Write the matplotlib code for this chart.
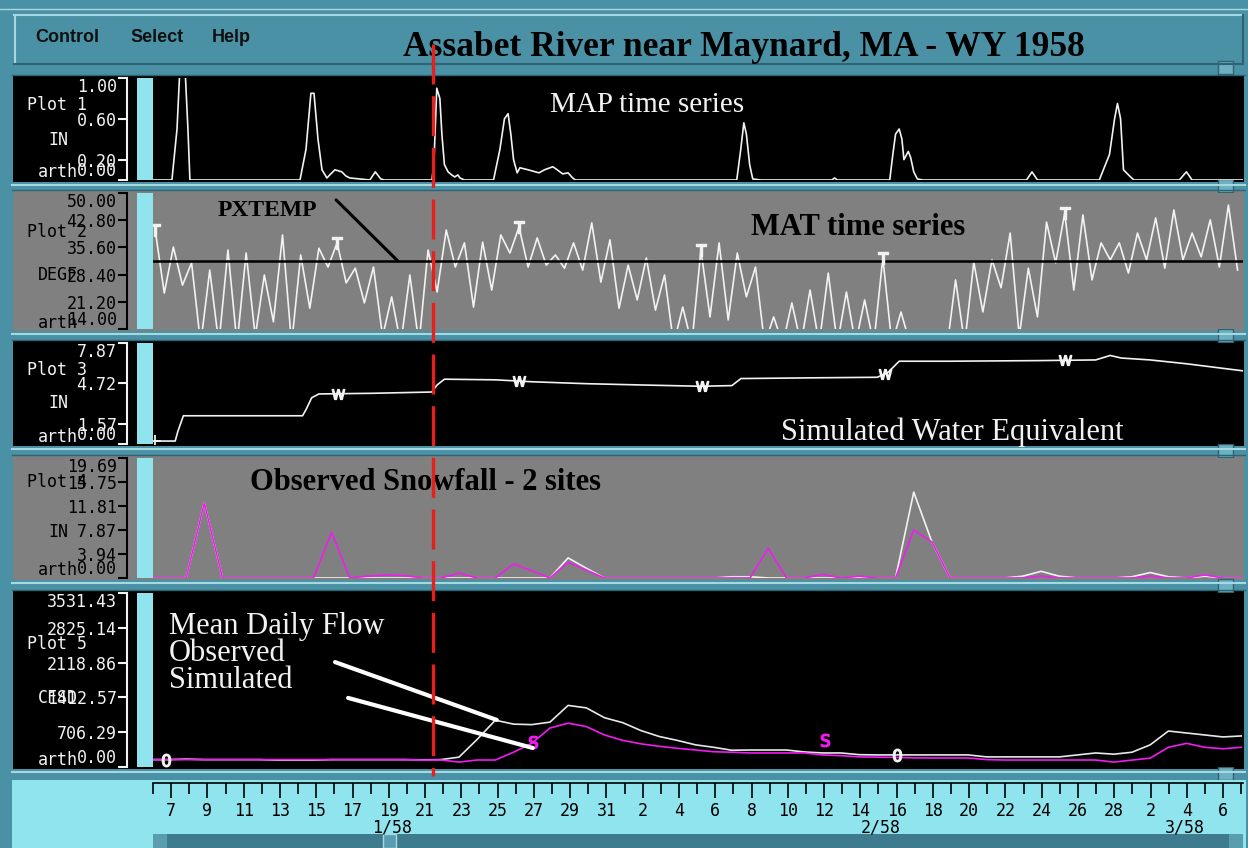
import numpy as np
import matplotlib
matplotlib.use("Agg")
import matplotlib.pyplot as plt
from matplotlib.patches import Rectangle
from matplotlib.transforms import blended_transform_factory

W, H = 1248, 848

# ---------------- data (day number counted from Dec 31 1957, Jan 1 = 1) ----------------
XLIM = (6.18, 66.1)
DAYS = np.arange(6, 67)

# Plot 1: MAP time series (vertices of the 6-h trace)
MAP_T = [6.2, 7.22, 7.5, 7.66, 7.94, 8.1, 8.21,
         14.26, 14.59, 14.86, 15.03, 15.25, 15.47, 15.74, 15.9, 16.18, 16.56, 16.78, 17.0, 18.1, 18.4, 18.7, 18.9,
         21.51, 21.62, 21.78, 21.95, 22.06, 22.2, 22.4, 22.6, 22.77, 22.94, 23.05, 23.3,
         24.9, 25.25, 25.5, 25.7, 25.85, 26.0, 26.2, 26.35, 26.8, 27.4, 27.7, 28.16, 28.4, 28.7, 29.0, 29.25, 29.4,
         38.27, 38.49, 38.66, 38.8, 38.98, 39.15, 39.6,
         43.5, 43.65, 43.8,
         46.68, 46.85, 47.0, 47.2, 47.35, 47.46, 47.7, 47.83, 48.0, 48.2, 48.5,
         54.2, 54.5, 54.8,
         58.2, 58.76, 59.04, 59.2, 59.37, 59.53, 59.86, 60.1,
         62.6, 62.99, 63.3, 66.1]
MAP_V = [0, 0, 0.5, 1.1, 1.1, 0.5, 0,
         0, 0.3, 0.85, 0.85, 0.4, 0.1, 0.02, 0.05, 0.1, 0.08, 0.04, 0.02, 0, 0.08, 0.01, 0,
         0, 0.15, 0.9, 0.8, 0.45, 0.15, 0.08, 0.05, 0.03, 0.05, 0.02, 0,
         0, 0.3, 0.6, 0.65, 0.45, 0.2, 0.07, 0.12, 0.1, 0.07, 0.1, 0.13, 0.1, 0.06, 0.07, 0.02, 0,
         0, 0.3, 0.56, 0.45, 0.15, 0.01, 0,
         0, 0.02, 0,
         0, 0.25, 0.45, 0.5, 0.4, 0.2, 0.28, 0.22, 0.08, 0.01, 0,
         0, 0.08, 0,
         0, 0.25, 0.6, 0.75, 0.6, 0.1, 0.04, 0,
         0, 0.08, 0, 0]

# Plot 2: MAT daily highs / lows (deg F), first high at day 6.3
MAT_START = 6.3
MAT_HI = [40.2, 35.7, 31.5, 29.6, 34.9, 34.1, 28.3, 38.9, 33.6, 35.4,
          36.8, 30.1, 30.4, 22.5, 28.3, 34.9, 40.2, 36.8, 37.0, 38.9,
          41.0, 38.1, 33.6, 36.8, 42.1, 37.6, 30.9, 32.8, 28.3, 19.8,
          34.9, 36.8, 34.1, 30.4, 17.2, 20.9, 24.3, 28.8, 23.8, 21.7,
          32.8, 18.5, 12.0, 12.0, 27.0, 31.7, 32.3, 39.4, 30.1, 42.3,
          44.7, 44.2, 36.8, 36.8, 39.4, 43.4, 45.5, 39.4, 42.9, 46.8]
MAT_LO = [23.5, 25.6, 10, 10, 10, 12, 15.9, 10, 19.5, 30.4,
          26.2, 20.9, 12, 10, 10, 23.8, 30.4, 19.8, 24.3, 34.1,
          30.4, 30.9, 30.1, 29.6, 26.4, 19.5, 21.7, 19.0, 10, 10,
          17.2, 16.4, 22.5, 10, 10, 10, 10, 10, 10, 10,
          10, 10, 8, 8, 10, 18.5, 24.9, 12, 17.2, 31.5,
          24.3, 27.0, 32.3, 28.8, 32.3, 30.1, 32.3, 33.1, 30.4, 29.6]
PXTEMP = 32.0

# Plot 3: simulated water equivalent (in)
SWE_T = [6.3, 7.4, 7.55, 7.85, 14.4, 14.6, 14.9, 15.3, 18.2, 21.5, 21.8, 22.2, 25, 27, 30, 33,
         36.3, 38.0, 38.5, 42, 46.0, 46.6, 47.2, 50, 55, 58.0, 58.8, 59.4, 61, 63, 66.1]
SWE_V = [0.23, 0.23, 1.0, 2.2, 2.2, 2.7, 3.6, 3.9, 3.95, 4.05, 4.6, 5.05, 5.0, 4.85, 4.7, 4.6,
         4.5, 4.55, 5.1, 5.15, 5.2, 5.6, 6.45, 6.45, 6.5, 6.55, 6.9, 6.7, 6.55, 6.25, 5.7]

# Plot 4: observed snowfall, two sites (in), days 6..66
SNOW_A = [0, 0, 0, 12.3, 0, 0, 0, 0, 0, 0, 0, 0, 0, 0, 0, 0, 0, 0, 0, 0, 0, 0, 0, 3.3, 1.6, 0,
          0, 0, 0, 0, 0, 0, 0.2, 0.2, 0, 0, 0, 0, 0, 0, 0, 0, 14.1, 5.9, 0, 0, 0, 0, 0.3, 1.1, 0.3,
          0, 0, 0, 0.2, 0.9, 0.2, 0, 0.3, 0, 0]
SNOW_B = [0, 0, 0, 12.3, 0, 0, 0, 0, 0, 0, 7.5, 0, 0.3, 0.5, 0.4, 0, 0, 0.8, 0, 0, 2.3, 1.2, 0, 2.6, 1.3, 0,
          0, 0, 0, 0, 0, 0, 0, 0, 4.9, 0, 0, 0.6, 0, 0.3, 0, 0, 7.9, 5.9, 0, 0, 0, 0, 0, 0.3, 0,
          0, 0, 0, 0, 0.3, 0, 0, 0.5, 0, 0]

# Plot 5: mean daily flow (cfs), days 6..66
FLOW_OBS = [150, 150, 160, 150, 150, 150, 150, 140, 140, 140, 150, 150, 150, 150, 150, 145,
            150, 200, 560, 950, 870, 860, 910, 1250, 1200, 1000, 900, 740, 620, 540, 450, 400,
            340, 345, 345, 345, 305, 285, 285, 250, 245, 245, 245, 245, 245, 245, 205, 205, 205,
            205, 205, 245, 285, 260, 300, 450, 730, 690, 650, 610, 630]
FLOW_SIM = [150, 150, 150, 150, 150, 150, 150, 150, 150, 150, 150, 150, 150, 150, 150, 140,
            142, 100, 142, 142, 300, 480, 790, 890, 820, 650, 540, 470, 420, 380, 345, 310,
            300, 285, 285, 285, 285, 245, 230, 205, 200, 195, 185, 183, 183, 183, 150, 142, 142,
            142, 142, 142, 142, 100, 140, 180, 400, 480, 400, 370, 400]

RED_DAY = 21.55

# y axes
Y1_TICKS = [0, 0.2, 0.6, 1.0]
Y2_TICKS = [14, 21.2, 28.4, 35.6, 42.8, 50]
Y3_TICKS = [0, 1.57, 4.72, 7.87]
Y4_TICKS = [0, 3.94, 7.87, 11.81, 15.75, 19.69]
Y5_TICKS = [0, 706.29, 1412.57, 2118.86, 2825.14, 3531.43]

# time axis
TICK_DAYS = [7, 9, 11, 13, 15, 17, 19, 21, 23, 25, 27, 29, 31,
             33, 35, 37, 39, 41, 43, 45, 47, 49, 51, 53, 55, 57, 59, 61, 63, 65]
TICK_LABELS = ["7", "9", "11", "13", "15", "17", "19", "21", "23", "25", "27", "29", "31",
               "2", "4", "6", "8", "10", "12", "14", "16", "18", "20", "22", "24", "26", "28",
               "2", "4", "6"]
MONTH_POS = [19.2, 46.1, 62.9]
MONTH_LABELS = ["1/58", "2/58", "3/58"]

TITLE = "Assabet River near Maynard, MA - WY 1958"

# ---------------- styling ----------------
TEAL = "#4b91a5"
TEAL_LIGHT = "#a6d8e2"
TEAL_DARK = "#2d6373"
CYAN = "#8fe4ee"
GRAY = "#808080"
MAGENTA = "#f01cf0"
WHITE = "#f2f2f2"
MONO = "DejaVu Sans Mono"
SERIF = "Liberation Serif"

fig = plt.figure(figsize=(W / 100, H / 100), dpi=100, facecolor=TEAL)


def px_axes(x0, y0, x1, y1, **kw):
    return fig.add_axes([x0 / W, 1 - y1 / H, (x1 - x0) / W, (y1 - y0) / H], **kw)


bg = px_axes(0, 0, W, H, zorder=0)
bg.set_xlim(0, W)
bg.set_ylim(H, 0)
bg.axis("off")

# window edge and menu bar
bg.plot([0, W], [9, 9], color=TEAL_LIGHT, lw=1)
bg.add_patch(Rectangle((14, 14), 1229, 51, facecolor=TEAL, edgecolor="none"))
bg.plot([14, 1243], [15, 15], color=TEAL_LIGHT, lw=1.5)
bg.plot([15, 15], [15, 64], color=TEAL_LIGHT, lw=1.5)
bg.plot([14, 1243], [64, 64], color=TEAL_DARK, lw=1.5)
bg.plot([1243, 1243], [15, 64], color=TEAL_DARK, lw=1.5)
for txt, x in [("Control", 35), ("Select", 130), ("Help", 212)]:
    bg.text(x, 38, txt, fontsize=13, fontweight="bold", family="Liberation Sans",
            color="#101010", va="center", ha="left")
bg.text(744, 48, TITLE, fontsize=25.5, fontweight="bold", family=SERIF,
        color="black", va="center", ha="center")

# panels: (top, bottom, face, fg, ylim, ticks, side labels)
panels = [
    (78, 180, "black", WHITE, (0, 1.0), Y1_TICKS,
     [("Plot 1", 27, 105), ("IN", 48, 140), ("arth", 38, 172)]),
    (193, 329, GRAY, "black", (14, 50), Y2_TICKS,
     [("Plot 2", 27, 232), ("DEGF", 38, 275), ("arth", 38, 323)]),
    (343, 444, "black", WHITE, (0, 7.87), Y3_TICKS,
     [("Plot 3", 27, 370), ("IN", 48, 403), ("arth", 38, 437)]),
    (458, 578, GRAY, "black", (0, 19.69), Y4_TICKS,
     [("Plot 4", 27, 482), ("IN", 48, 532), ("arth", 38, 570)]),
    (593, 767, "black", WHITE, (0, 3531.43), Y5_TICKS,
     [("Plot 5", 27, 644), ("CFSD", 38, 698), ("arth", 38, 760)]),
]

axes = []
for top, bot, face, fg, ylim, ticks, side in panels:
    bg.add_patch(Rectangle((13, top - 2), 1231, bot - top + 4, facecolor=face, edgecolor="none"))
    bg.plot([12, 1245], [top - 3, top - 3], color=TEAL_DARK, lw=1)
    bg.plot([12, 1245], [bot + 5, bot + 5], color=TEAL_LIGHT, lw=1.5)
    bg.add_patch(Rectangle((137, top), 16, bot - top, facecolor=CYAN, edgecolor="none"))
    for txt, x, y in side:
        bg.text(x, y, txt, fontsize=12, family=MONO, color=fg, va="center", ha="left")

    ax = px_axes(153, top, 1243, bot, facecolor=face)
    ax.set_xlim(*XLIM)
    ax.set_ylim(*ylim)
    ax.set_xticks([])
    for s in ("top", "right", "bottom"):
        ax.spines[s].set_visible(False)
    ax.spines["left"].set_position(("outward", 18.7))
    ax.spines["left"].set_color(fg)
    ax.spines["left"].set_linewidth(1.5)
    ax.set_yticks(ticks)
    labels = ax.set_yticklabels([f"{v:.2f}" for v in ticks], family=MONO, fontsize=12, color=fg)
    labels[0].set_va("bottom")
    labels[-1].set_va("top")
    ax.tick_params(axis="y", colors=fg, length=6.5, width=1.5, pad=1)
    axes.append(ax)

ax1, ax2, ax3, ax4, ax5 = axes

# sash handles on the right
for y in [68, 186, 336, 451, 586, 774]:
    bg.add_patch(Rectangle((1218, y - 7), 15, 13, facecolor="#6cb0c2", edgecolor=TEAL_DARK, lw=1))

# plot 1
ax1.plot(MAP_T, MAP_V, color=WHITE, lw=1.2)
ax1.text(0.453, 0.735, "MAP time series", transform=ax1.transAxes, fontsize=21,
         family=SERIF, color=WHITE, ha="center", va="center")

# plot 2
mat_t = np.empty(2 * len(MAT_HI))
mat_v = np.empty(2 * len(MAT_HI))
mat_t[0::2] = MAT_START + np.arange(len(MAT_HI))
mat_t[1::2] = MAT_START + 0.5 + np.arange(len(MAT_LO))
mat_v[0::2] = MAT_HI
mat_v[1::2] = MAT_LO
ax2.plot(mat_t, mat_v, color=WHITE, lw=1.2)
ax2.axhline(PXTEMP, color="black", lw=1.8)
ax2.plot(mat_t[0::20], mat_v[0::20], ls="none", marker="$\\mathrm{T}$", ms=8, color=WHITE)
ax2.text(0.105, 0.875, "PXTEMP", transform=ax2.transAxes, fontsize=17, fontweight="bold",
         family=SERIF, color="black", ha="center", va="center")
ax2.annotate("", xy=(19.64, PXTEMP), xycoords="data", xytext=(0.168, 0.949),
             textcoords="axes fraction",
             arrowprops=dict(arrowstyle="-", color="black", lw=2.2, shrinkA=0, shrinkB=0))
ax2.text(0.647, 0.743, "MAT time series", transform=ax2.transAxes, fontsize=22,
         fontweight="bold", family=SERIF, color="black", ha="center", va="center")

# plot 3
ax3.plot(SWE_T, SWE_V, color=WHITE, lw=1.2)
w_days = [16.35, 26.3, 36.35, 46.4, 56.3]
ax3.plot(w_days, np.interp(w_days, SWE_T, SWE_V), ls="none", marker="$\\mathrm{W}$",
         ms=9, color=WHITE)
ax3.plot([6.3], [SWE_V[0]], ls="none", marker="+", ms=9, mew=1.3, color=WHITE)
ax3.text(0.733, 0.115, "Simulated Water Equivalent", transform=ax3.transAxes, fontsize=22,
         family=SERIF, color=WHITE, ha="center", va="center")

# plot 4
ax4.plot(DAYS, SNOW_A, color=WHITE, lw=1.2)
ax4.plot(DAYS, SNOW_B, color=MAGENTA, lw=1.2)
ax4.text(0.25, 0.8, "Observed Snowfall - 2 sites", transform=ax4.transAxes, fontsize=22,
         fontweight="bold", family=SERIF, color="black", ha="center", va="center")

# plot 5
ax5.plot(DAYS, FLOW_OBS, color="#e8e8e8", lw=1.2)
ax5.plot(DAYS, FLOW_SIM, color=MAGENTA, lw=1.2)
ax5.plot([27.06], [np.interp(27.06, DAYS, FLOW_SIM)], ls="none", marker="$\\mathrm{S}$",
         ms=9, color=MAGENTA)
ax5.plot([43.1], [np.interp(43.1, DAYS, FLOW_SIM) + 300], ls="none", marker="$\\mathrm{S}$",
         ms=9, color=MAGENTA)
ax5.plot([6.9, 47.1], [np.interp(6.9, DAYS, FLOW_OBS), np.interp(47.1, DAYS, FLOW_OBS)],
         ls="none", marker="$\\mathrm{0}$", ms=9, color=WHITE)
for txt, y in [("Mean Daily Flow", 0.805), ("Observed", 0.655), ("Simulated", 0.5)]:
    ax5.text(0.0147, y, txt, transform=ax5.transAxes, fontsize=22, family=SERIF,
             color=WHITE, ha="left", va="center")
ax5.annotate("", xy=(25.08, 955), xycoords="data", xytext=(0.167, 0.603),
             textcoords="axes fraction",
             arrowprops=dict(arrowstyle="-", color="white", lw=3, shrinkA=0, shrinkB=0))
ax5.annotate("", xy=(27.06, 386), xycoords="data", xytext=(0.179, 0.397),
             textcoords="axes fraction",
             arrowprops=dict(arrowstyle="-", color="white", lw=3, shrinkA=0, shrinkB=0))

# time axis strip
bg.add_patch(Rectangle((12, 780), 1234, 68, facecolor=CYAN, edgecolor="none"))
bg.add_patch(Rectangle((153, 834), 1090, 14, facecolor="#3f7b8e", edgecolor="none"))
bg.add_patch(Rectangle((383, 834), 13, 14, facecolor="#5b9db0", edgecolor=TEAL_LIGHT, lw=1))
bg.add_patch(Rectangle((153, 834), 14, 14, facecolor="#5b9db0", edgecolor="none"))
bg.add_patch(Rectangle((1229, 834), 14, 14, facecolor="#5b9db0", edgecolor="none"))

axt = px_axes(153, 783, 1243, 834, facecolor=CYAN)
axt.set_xlim(*XLIM)
axt.set_ylim(0, 1)
axt.set_yticks([])
for s in ("left", "right", "bottom"):
    axt.spines[s].set_visible(False)
axt.spines["top"].set_linewidth(1.2)
axt.set_xticks(TICK_DAYS)
axt.set_xticklabels(TICK_LABELS, family=MONO, fontsize=12)
axt.set_xticks(DAYS, minor=True)
axt.tick_params(axis="x", which="both", top=True, bottom=False, labeltop=True,
                labelbottom=False, direction="in", width=1.2)
axt.tick_params(axis="x", which="major", length=11, pad=-27)
axt.tick_params(axis="x", which="minor", length=8)
for pos, lab in zip(MONTH_POS, MONTH_LABELS):
    axt.text(pos, 0.13, lab, fontsize=12, family=MONO, ha="center", va="center", color="black")

# red dashed day marker across all panels
top_ax = px_axes(0, 0, W, H, zorder=10)
top_ax.set_xlim(0, W)
top_ax.set_ylim(H, 0)
top_ax.axis("off")
trans = blended_transform_factory(ax1.transData, top_ax.transData)
top_ax.plot([RED_DAY, RED_DAY], [44, 776], transform=trans, color="#e8201c", lw=2.4,
            ls=(0, (12, 3.5)), clip_on=False)

fig.savefig("out.png", dpi=100, facecolor=fig.get_facecolor())
